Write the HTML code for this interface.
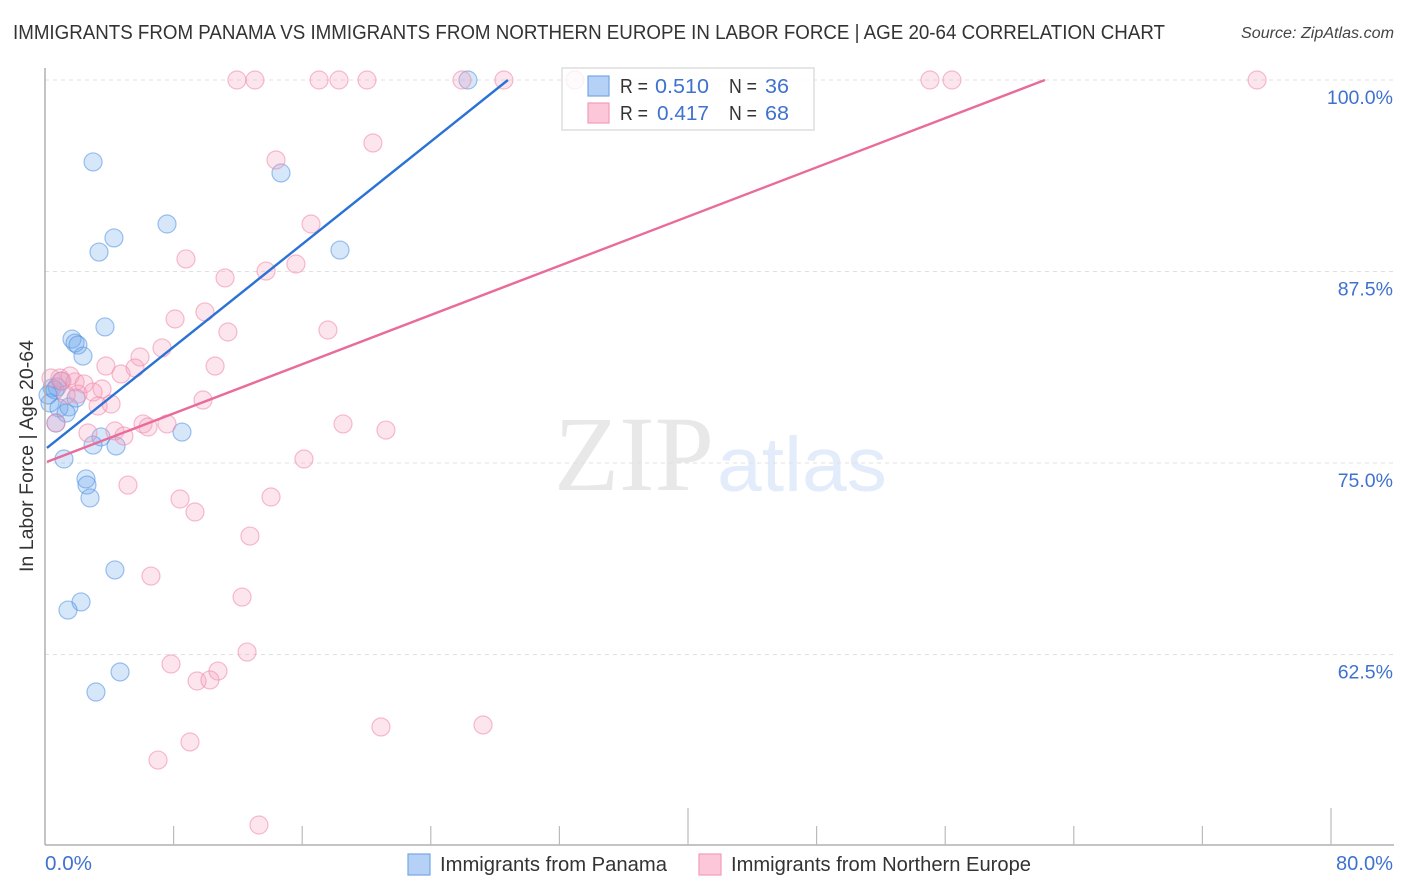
<!DOCTYPE html>
<html lang="en">
<head>
<meta charset="utf-8">
<title>Immigrants from Panama vs Immigrants from Northern Europe in Labor Force</title>
<style>
html,body{margin:0;padding:0;background:#fff;}
svg{display:block;}
text{font-family:"Liberation Sans",sans-serif;}
</style>
</head>
<body>
<svg id="chart" xmlns="http://www.w3.org/2000/svg" width="1406" height="892" viewBox="0 0 1406 892">
  <rect x="0" y="0" width="1406" height="892" fill="#ffffff"/>
  <text x="13" y="39" font-size="20" fill="#333333" textLength="1152" lengthAdjust="spacingAndGlyphs">IMMIGRANTS FROM PANAMA VS IMMIGRANTS FROM NORTHERN EUROPE IN LABOR FORCE | AGE 20-64 CORRELATION CHART</text>
  <text x="1241" y="38" font-size="15.5" font-style="italic" fill="#444444" textLength="153" lengthAdjust="spacingAndGlyphs">Source: ZipAtlas.com</text>

  <g id="watermark">
    <text x="554" y="490" style="font-family:'Liberation Serif',serif" font-size="107" fill="#e8e8e8" textLength="160" lengthAdjust="spacingAndGlyphs">ZIP</text>
    <text x="717" y="491" font-size="77" fill="#e3ecfa" textLength="170" lengthAdjust="spacingAndGlyphs">atlas</text>
  </g>

  <g id="grid"></g>
  <g id="points-blue"></g>
  <g id="points-pink"></g>
  <g id="trends"></g>
  <g id="axes"></g>
  <g id="ytick-labels"></g>

  <text transform="translate(33,456) rotate(-90)" text-anchor="middle" font-size="19" fill="#333333" textLength="232" lengthAdjust="spacingAndGlyphs">In Labor Force | Age 20-64</text>
  <text x="45" y="870" font-size="20" fill="#3f72cf" textLength="47" lengthAdjust="spacingAndGlyphs">0.0%</text>
  <text x="1336" y="870" font-size="20" fill="#3f72cf" textLength="57" lengthAdjust="spacingAndGlyphs">80.0%</text>

  <g>
    <rect x="562" y="68" width="252" height="62" fill="#ffffff" fill-opacity="0.8" stroke="#dddddd" stroke-width="1.5"/>
    <rect x="588" y="76" width="21" height="20" fill="#b5d2f6" stroke="#74a6e6" stroke-width="1.2"/>
    <rect x="588" y="103" width="21" height="20" fill="#fcc8d9" stroke="#f29cb8" stroke-width="1.2"/>
    <text x="620" y="93" font-size="20" fill="#333333" textLength="28" lengthAdjust="spacingAndGlyphs">R =</text>
    <text x="655" y="93" font-size="20" fill="#3f72cf" textLength="54" lengthAdjust="spacingAndGlyphs">0.510</text>
    <text x="729" y="93" font-size="20" fill="#333333" textLength="28" lengthAdjust="spacingAndGlyphs">N =</text>
    <text x="765" y="93" font-size="20" fill="#3f72cf" textLength="24" lengthAdjust="spacingAndGlyphs">36</text>
    <text x="620" y="120" font-size="20" fill="#333333" textLength="28" lengthAdjust="spacingAndGlyphs">R =</text>
    <text x="657" y="120" font-size="20" fill="#3f72cf" textLength="52" lengthAdjust="spacingAndGlyphs">0.417</text>
    <text x="729" y="120" font-size="20" fill="#333333" textLength="28" lengthAdjust="spacingAndGlyphs">N =</text>
    <text x="765" y="120" font-size="20" fill="#3f72cf" textLength="24" lengthAdjust="spacingAndGlyphs">68</text>
  </g>

  <g>
    <rect x="408" y="854" width="22" height="21" fill="#b5d2f6" stroke="#74a6e6" stroke-width="1.2"/>
    <text x="440" y="871" font-size="20" fill="#333333" textLength="227" lengthAdjust="spacingAndGlyphs">Immigrants from Panama</text>
    <rect x="699" y="854" width="22" height="21" fill="#fcc8d9" stroke="#f29cb8" stroke-width="1.2"/>
    <text x="731" y="871" font-size="20" fill="#333333" textLength="300" lengthAdjust="spacingAndGlyphs">Immigrants from Northern Europe</text>
  </g>
</svg>
<script>
const yTicks = [100, 87.5, 75, 62.5];
const yTickLabels = ['100.0%', '87.5%', '75.0%', '62.5%'];
const xTicks = [0, 8, 16, 24, 32, 40, 48, 56, 64, 72, 80];
const xMajorTicks = [40, 80];

const panamaX = [2.99,14.68,7.59,4.29,3.36,18.35,3.73,1.68,1.87,2.05,2.36,0.44,0.75,0.62,0.31,0.87,1.49,1.31,1.93,0.68,3.48,2.99,4.42,8.52,1.18,2.55,2.61,2.80,4.35,2.24,1.43,4.67,3.17,26.31,1.00,0.19];
const panamaY = [94.65,93.93,90.60,89.69,88.77,88.90,83.88,83.09,82.83,82.70,81.98,79.90,79.96,79.77,78.92,78.59,78.66,78.26,79.24,77.61,76.70,76.17,76.11,77.02,75.26,73.96,73.56,72.72,68.02,65.93,65.40,61.36,60.05,100,80.35,79.44];

const europeX = [11.94,13.06,17.05,18.29,20.03,25.94,28.55,32.97,55.05,56.42,75.40,20.40,14.37,16.55,8.77,11.20,13.75,15.61,9.95,8.09,11.38,17.60,7.28,5.91,10.58,5.60,3.79,4.73,0.37,0.93,1.06,1.56,1.87,2.43,3.55,2.99,2.05,4.11,3.30,1.31,0.68,9.83,6.10,6.41,7.59,4.35,4.91,2.67,18.54,21.21,16.11,5.16,8.40,9.33,14.06,12.75,6.59,12.26,12.57,7.84,10.76,9.46,10.26,20.90,27.25,9.02,7.03,13.31];
const europeY = [100,100,100,100,100,100,100,100,100,100,100,95.89,94.78,90.60,88.32,87.08,87.53,87.99,84.86,84.40,83.55,83.68,82.51,81.92,81.33,81.20,81.33,80.81,80.55,80.55,80.35,80.68,80.29,80.16,79.83,79.63,79.50,78.85,78.72,79.44,77.61,79.11,77.55,77.35,77.55,77.09,76.76,76.96,77.55,77.15,75.26,73.56,72.65,71.80,72.78,70.23,67.62,66.25,62.66,61.88,61.42,60.77,60.84,57.77,57.90,56.79,55.61,51.37];

const panamaTrendX = [0.12, 28.8];
const panamaTrendY = [75.98, 100];
const europeTrendX = [0.12, 62.2];
const europeTrendY = [75.07, 100];

const SVG_NS = 'http://www.w3.org/2000/svg';
function xScale(v) { return 45 + v * (1286 / 80); }
function yScale(v) { return 80 + (100 - v) * (191.5 / 12.5); }
function make(tag, attrs, parent) {
  const el = document.createElementNS(SVG_NS, tag);
  for (const k in attrs) el.setAttribute(k, attrs[k]);
  parent.appendChild(el);
  return el;
}

const grid = document.getElementById('grid');
const axes = document.getElementById('axes');
const yLabels = document.getElementById('ytick-labels');

yTicks.forEach(function (t, i) {
  const line = make('line', {x1: 45, x2: 1394, y1: yScale(t), y2: yScale(t), stroke: '#e0e0e0', 'stroke-width': 1, 'stroke-dasharray': '4 4'}, grid);
  
  
  const label = make('text', {x: 1393, y: yScale(t) + 24, 'text-anchor': 'end', 'font-size': 19.5, fill: '#3f72cf'}, yLabels);
  label.textContent = yTickLabels[i];
  
  
});

const yAxis = make('line', {x1: 45, x2: 45, y1: 68, y2: 845, stroke: '#b0b0b0', 'stroke-width': 1.5}, axes);


const xAxis = make('line', {x1: 45, x2: 1394, y1: 845, y2: 845, stroke: '#b0b0b0', 'stroke-width': 1.5}, axes);



xTicks.forEach(function (t) {
  if (t === 0) return;
  const top = xMajorTicks.indexOf(t) >= 0 ? 808 : 826;
  const tick = make('line', {x1: xScale(t), x2: xScale(t), y1: top, y2: 845, stroke: '#bbbbbb', 'stroke-width': 1.2}, axes);
  
  
});

function drawPoints(groupId, xs, ys, fill, stroke, name) {
  const g = document.getElementById(groupId);
  xs.forEach(function (x, i) {
    const c = make('circle', {cx: xScale(x), cy: yScale(ys[i]), r: 9, fill: fill, 'fill-opacity': 0.28, stroke: stroke, 'stroke-opacity': 0.55, 'stroke-width': 1.2}, g);
    
    
  });
}
drawPoints('points-blue', panamaX, panamaY, '#6ea8ee', '#4f8fe0', 'panama-point');
drawPoints('points-pink', europeX, europeY, '#f9a3bf', '#ee86a8', 'northern-europe-point');

const trends = document.getElementById('trends');
const trendBlue = make('line', {x1: xScale(panamaTrendX[0]), y1: yScale(panamaTrendY[0]), x2: xScale(panamaTrendX[1]), y2: yScale(panamaTrendY[1]), stroke: '#2a72d6', 'stroke-width': 2.4}, trends);


const trendPink = make('line', {x1: xScale(europeTrendX[0]), y1: yScale(europeTrendY[0]), x2: xScale(europeTrendX[1]), y2: yScale(europeTrendY[1]), stroke: '#e96b9a', 'stroke-width': 2.4}, trends);


</script>
</body>
</html>
